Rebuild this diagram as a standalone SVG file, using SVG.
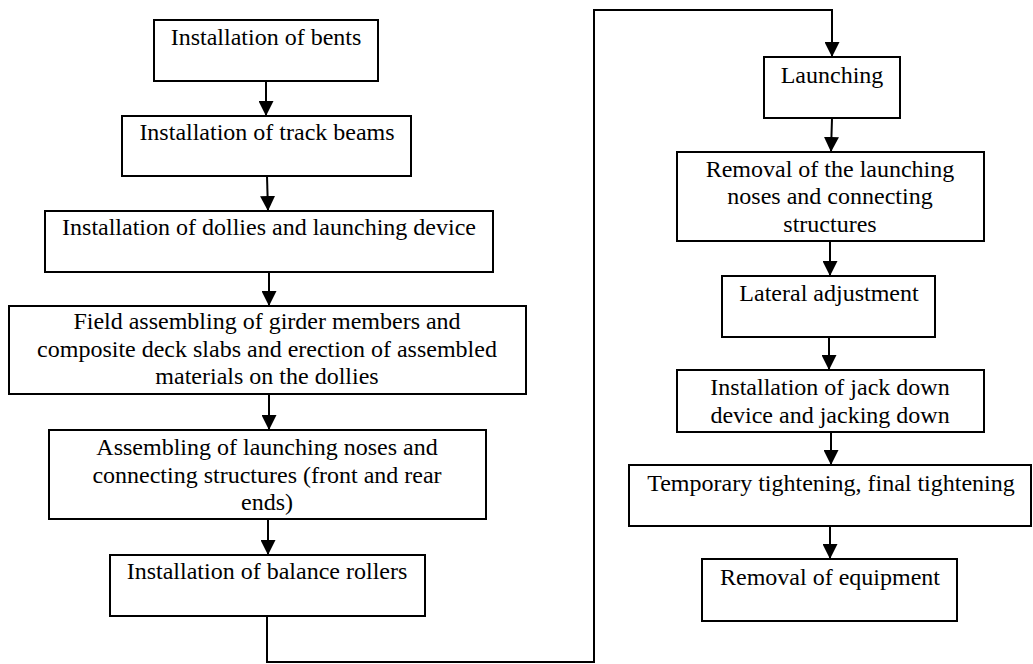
<svg xmlns="http://www.w3.org/2000/svg" width="1033" height="664" viewBox="0 0 1033 664">
<defs>
<style>
.box{fill:#fff;stroke:#000;stroke-width:2}
.t{font-family:'Liberation Serif','Times New Roman',serif;font-size:24px;fill:#000;text-anchor:middle}
.c{fill:none;stroke:#000;stroke-width:2}
</style>
<marker id="ah" markerUnits="userSpaceOnUse" markerWidth="15" markerHeight="15" refX="15" refY="7.5" orient="auto">
<path d="M0,0 L15,7.5 L0,15 z" fill="#000"/>
</marker>
</defs>
<rect width="1033" height="664" fill="#fff"/>
<g id="connectors">
<path class="c" d="M266,81 V116" marker-end="url(#ah)"/>
<path class="c" d="M267,176 L268,211" marker-end="url(#ah)"/>
<path class="c" d="M269,272 V306" marker-end="url(#ah)"/>
<path class="c" d="M269,394 V430" marker-end="url(#ah)"/>
<path class="c" d="M268,519 V555" marker-end="url(#ah)"/>
<path class="c" d="M267,616 V662 H594 V10 H832 V57" marker-end="url(#ah)"/>
<path class="c" d="M832,118 L831,152" marker-end="url(#ah)"/>
<path class="c" d="M830,241 V276" marker-end="url(#ah)"/>
<path class="c" d="M829,337 V370" marker-end="url(#ah)"/>
<path class="c" d="M831,432 V465" marker-end="url(#ah)"/>
<path class="c" d="M830,526 V559" marker-end="url(#ah)"/>
</g>
<g id="n1"><rect class="box" x="154" y="20" width="224" height="61"/><text class="t" x="266" y="45">Installation of bents</text></g>
<g id="n2"><rect class="box" x="122" y="116" width="289" height="60"/><text class="t" x="267" y="140">Installation of track beams</text></g>
<g id="n3"><rect class="box" x="45" y="211" width="448" height="61"/><text class="t" x="269" y="235">Installation of dollies and launching device</text></g>
<g id="n4"><rect class="box" x="9" y="306" width="517" height="88"/><text class="t" x="267" y="329">Field assembling of girder members and</text><text class="t" x="267" y="357">composite deck slabs and erection of assembled</text><text class="t" x="267" y="384">materials on the dollies</text></g>
<g id="n5"><rect class="box" x="49" y="430" width="437" height="89"/><text class="t" x="267" y="455">Assembling of launching noses and</text><text class="t" x="267" y="483">connecting structures (front and rear</text><text class="t" x="267" y="510">ends)</text></g>
<g id="n6"><rect class="box" x="110" y="555" width="315" height="61"/><text class="t" x="267" y="579">Installation of balance rollers</text></g>
<g id="n7"><rect class="box" x="764" y="57" width="136" height="61"/><text class="t" x="832" y="83">Launching</text></g>
<g id="n8"><rect class="box" x="677" y="152" width="307" height="89"/><text class="t" x="830" y="177">Removal of the launching</text><text class="t" x="830" y="204">noses and connecting</text><text class="t" x="830" y="232">structures</text></g>
<g id="n9"><rect class="box" x="722" y="276" width="213" height="61"/><text class="t" x="829" y="301">Lateral adjustment</text></g>
<g id="n10"><rect class="box" x="677" y="370" width="307" height="62"/><text class="t" x="830" y="395">Installation of jack down</text><text class="t" x="830" y="423">device and jacking down</text></g>
<g id="n11"><rect class="box" x="629" y="465" width="402" height="61"/><text class="t" x="831" y="491">Temporary tightening, final tightening</text></g>
<g id="n12"><rect class="box" x="702" y="559" width="255" height="62"/><text class="t" x="830" y="585">Removal of equipment</text></g>
</svg>
